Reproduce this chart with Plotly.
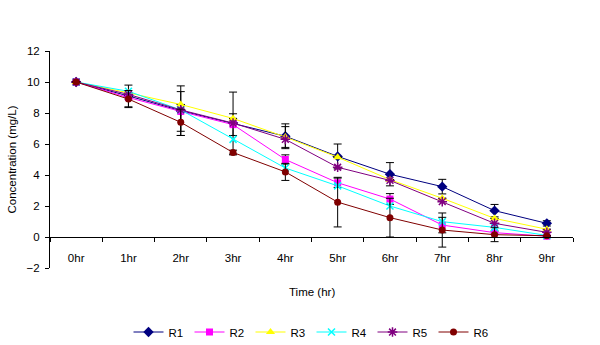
import plotly.graph_objects as go

categories = ["0hr", "1hr", "2hr", "3hr", "4hr", "5hr", "6hr", "7hr", "8hr", "9hr"]

r1 = [10.0, 9.1, 8.15, 7.35, 6.5, 5.2, 4.05, 3.25, 1.7, 0.88]
r2 = [10.0, 9.0, 8.1, 7.25, 5.0, 3.5, 2.45, 0.77, 0.28, 0.05]
r3 = [10.0, 9.3, 8.55, 7.65, 6.45, 5.15, 3.7, 2.5, 1.2, 0.5]
r4 = [10.0, 9.4, 8.2, 6.3, 4.45, 3.3, 2.0, 0.99, 0.62, 0.1]
r5 = [10.0, 9.2, 8.2, 7.35, 6.3, 4.5, 3.65, 2.28, 0.88, 0.3]
r6 = [10.0, 8.9, 7.4, 5.45, 4.2, 2.25, 1.25, 0.45, 0.15, 0.08]

r1_err = [None, 0.7, 1.6, 2.0, 0.8, 0.8, 0.75, 0.47, 0.4, 0.17]
r2_err = [None, 0.1, 1.28, 0.7, 0.3, 0.3, 0.35, 0.5, 0.1, None]
r3_err = [None, None, None, None, 0.67, None, None, None, None, None]
r6_err = [None, 0.55, 0.85, 0.15, 0.55, 1.6, 1.25, 1.1, 0.45, None]

y_ticks = [-2, 0, 2, 4, 6, 8, 10, 12]

FONT = "Arial, Liberation Sans, sans-serif"
FS = 11.5

series = [
    ("R1", r1, r1_err, "#000080", "diamond", 8, None),
    ("R2", r2, r2_err, "#FF00FF", "square", 7, None),
    ("R3", r3, r3_err, "#FFFF00", "triangle-up", 8, None),
    ("R4", r4, None, "#00FFFF", "x-thin-open", 7, 1.5),
    ("R5", r5, None, "#800080", "asterisk-open", 8, 1.5),
    ("R6", r6, r6_err, "#800000", "circle", 7, None),
]

fig = go.Figure()
for name, vals, err, color, sym, size, lw in series:
    marker = dict(symbol=sym, size=size, color=color)
    if lw:
        marker["line"] = dict(color=color, width=lw)
    else:
        marker["line"] = dict(width=0)
    tr = dict(
        x=categories, y=vals, name=name, mode="lines+markers",
        line=dict(color=color, width=1), marker=marker,
    )
    if err is not None:
        tr["error_y"] = dict(type="data", array=[e if e is not None else float("nan") for e in err],
                             visible=True, color="black", thickness=1, width=4)
    fig.add_trace(go.Scatter(**tr))

fig.update_layout(
    width=600, height=345,
    margin=dict(l=50, r=27, t=51, b=77, autoexpand=False),
    paper_bgcolor="white", plot_bgcolor="white",
    font=dict(family=FONT, size=FS, color="black"),
    showlegend=True,
    legend=dict(orientation="h", x=0.5, xanchor="center", y=-0.295, yanchor="middle",
                font=dict(size=FS), entrywidth=16, tracegroupgap=0),
    xaxis=dict(type="category", categoryorder="array", categoryarray=categories,
               anchor="free", position=2 / 14, showline=True, linecolor="black", linewidth=1,
               ticks="outside", tickson="boundaries", ticklen=4, tickcolor="black",
               ticklabelstandoff=10,
               showgrid=False, zeroline=False, range=[-0.5, 9.5], tickfont=dict(size=FS)),
    yaxis=dict(range=[-2, 12], tickvals=y_ticks, showline=True, linecolor="black",
               linewidth=1, ticks="outside", ticklen=4, tickcolor="black", showgrid=False,
               ticklabelstandoff=3,
               zeroline=False, tickfont=dict(size=FS)),
    annotations=[
        dict(text="Time (hr)", xref="paper", yref="paper", x=0.5, y=-0.1106,
             showarrow=False, font=dict(size=FS), xanchor="center", yanchor="middle"),
        dict(text="Concentration (mg/L)", xref="paper", yref="paper", x=-0.0727, y=0.5,
             showarrow=False, font=dict(size=FS), textangle=-90,
             xanchor="center", yanchor="middle"),
    ],
)

fig.write_html("out.html")
